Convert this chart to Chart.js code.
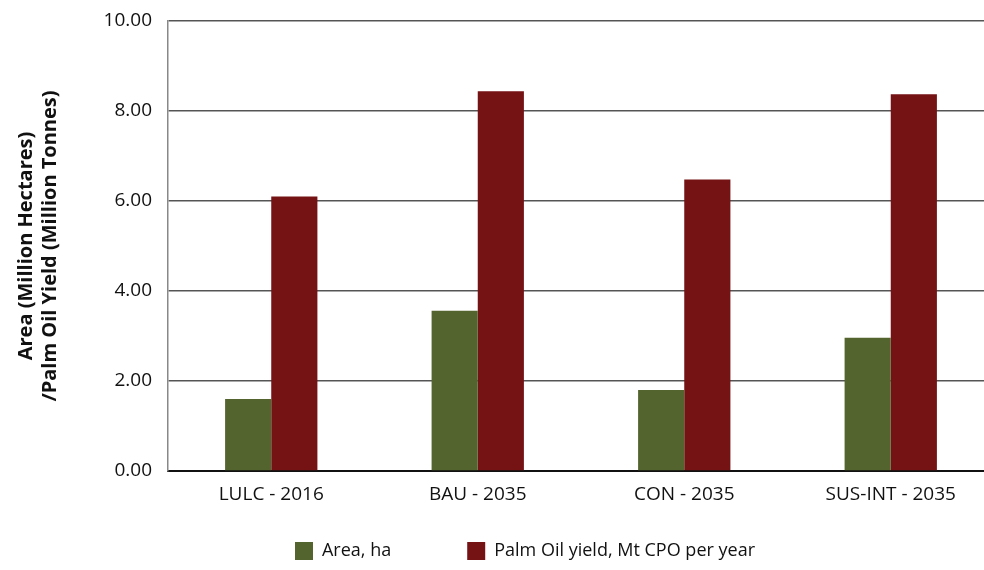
<!doctype html>
<html lang="en">
<head>
<meta charset="utf-8">
<title>Area and Palm Oil Yield</title>
<script src="https://cdn.jsdelivr.net/npm/chart.js"></script>
<style>
  html, body { margin: 0; padding: 0; background: #fff; overflow: hidden; }
  #myChart { display: block; }
</style>
</head>
<body>
<canvas id="myChart" width="996" height="570"></canvas>
<script>
// scenarios and values
var scenarios = ['LULC - 2016', 'BAU - 2035', 'CON - 2035', 'SUS-INT - 2035'];
var areaHa = [1.60, 3.56, 1.80, 2.96];
var palmOilYield = [6.10, 8.44, 6.48, 8.37];
var yTicks = [0, 2, 4, 6, 8, 10];

var font = "'Open Sans', 'Noto Sans', sans-serif";

// nudge the legend a bit to the right, like the original figure
var shiftLegend = {
  id: 'shiftLegend',
  afterUpdate: function(chart) {
    chart.legend.left += 28;
    chart.legend.right += 28;
  }
};

var ctx = document.getElementById('myChart').getContext('2d');
new Chart(ctx, {
  type: 'bar',
  data: {
    labels: scenarios,
    datasets: [{
      label: 'Area, ha',
      data: areaHa,
      backgroundColor: '#53642e'
    }, {
      label: 'Palm Oil yield, Mt CPO per year',
      data: palmOilYield,
      backgroundColor: '#751214'
    }]
  },
  plugins: [shiftLegend],
  options: {
    responsive: false,
    animation: false,
    layout: { padding: { top: 21, right: 2, left: 0, bottom: 0 } },
    datasets: { bar: { categoryPercentage: 0.447, barPercentage: 1 } },
    plugins: {
      tooltip: { enabled: false },
      legend: {
        position: 'bottom',
        labels: {
          font: { family: font, size: 18 },
          color: '#111',
          boxWidth: 18,
          boxHeight: 18,
          padding: 13,
          generateLabels: function(chart) {
            var items = Chart.defaults.plugins.legend.labels.generateLabels(chart);
            items.forEach(function(it, i) {
              if (i < items.length - 1) it.text = it.text + '\u2003\u2003\u2003\u2002';
            });
            return items;
          }
        }
      }
    },
    scales: {
      x: {
        afterFit: function(scale) { scale.height = 58; },
        grid: { display: false, drawTicks: false },
        border: { color: '#111', width: 2 },
        ticks: { font: { family: font, size: 19 }, color: '#111', padding: 12 }
      },
      y: {
        min: 0,
        max: 10,
        afterFit: function(scale) {
          scale.width = 168;
          scale.paddingTop = 0;
          scale.paddingBottom = 0;
        },
        afterBuildTicks: function(scale) {
          scale.ticks = yTicks.map(function(v) { return { value: v }; });
        },
        grid: { color: '#555', lineWidth: 1.5, drawTicks: false },
        border: { color: '#888', width: 1.5 },
        ticks: {
          font: { family: font, size: 19 },
          color: '#111',
          padding: 16,
          callback: function(v) { return v.toFixed(2); }
        },
        title: {
          display: true,
          text: ['Area (Million Hectares)', '/Palm Oil Yield (Million Tonnes)'],
          font: { family: font, size: 20, weight: 'bold' },
          color: '#111',
          padding: { top: 14, bottom: 0 }
        }
      }
    }
  }
});
</script>
</body>
</html>
